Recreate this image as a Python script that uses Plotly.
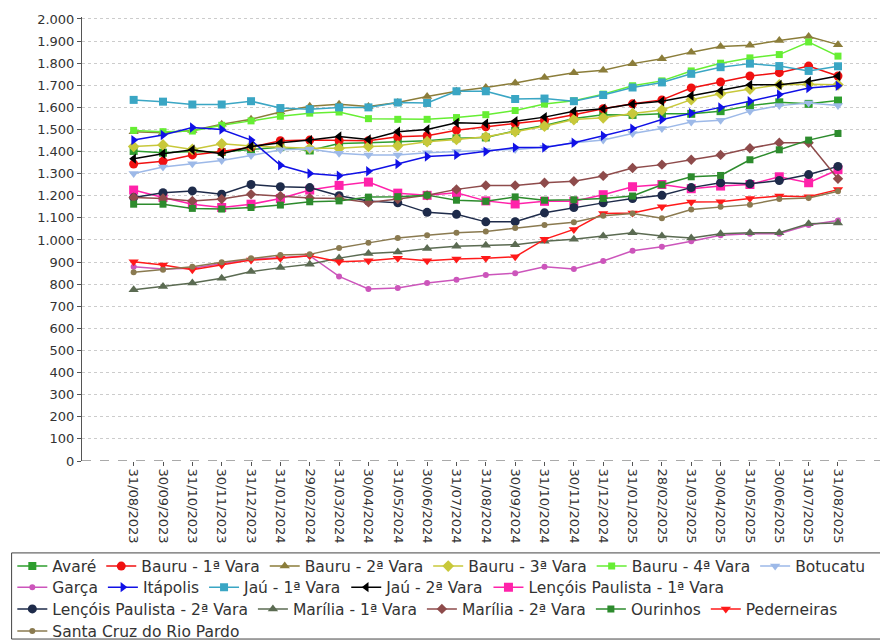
import plotly.graph_objects as go

# datas (fim de mês)
datas = ["31/08/2023", "30/09/2023", "31/10/2023", "30/11/2023", "31/12/2023",
         "31/01/2024", "29/02/2024", "31/03/2024", "30/04/2024", "31/05/2024",
         "30/06/2024", "31/07/2024", "31/08/2024", "30/09/2024", "31/10/2024",
         "30/11/2024", "31/12/2024", "31/01/2025", "28/02/2025", "31/03/2025",
         "30/04/2025", "31/05/2025", "30/06/2025", "31/07/2025", "31/08/2025"]

avare = [1403, 1395, 1400, 1398, 1410, 1420, 1405, 1437, 1440, 1445, 1449, 1460, 1464,
         1494, 1518, 1550, 1567, 1566, 1571, 1571, 1583, 1608, 1623, 1616, 1631]
bauru_1 = [1344, 1356, 1385, 1400, 1420, 1449, 1452, 1450, 1449, 1467, 1472, 1497, 1512,
           1527, 1542, 1567, 1594, 1616, 1634, 1688, 1715, 1742, 1757, 1787, 1742]
bauru_2 = [1490, 1485, 1495, 1524, 1546, 1579, 1605, 1614, 1604, 1622, 1649, 1673, 1690,
           1710, 1735, 1757, 1768, 1798, 1820, 1850, 1876, 1881, 1903, 1921, 1884]
bauru_3 = [1423, 1430, 1410, 1435, 1425, 1420, 1415, 1415, 1423, 1426, 1445, 1455, 1467,
           1490, 1515, 1545, 1553, 1572, 1588, 1635, 1662, 1683, 1702, 1705, 1702]
bauru_4 = [1496, 1490, 1493, 1519, 1539, 1560, 1574, 1579, 1549, 1546, 1546, 1554, 1567,
           1586, 1615, 1630, 1660, 1698, 1720, 1765, 1800, 1824, 1839, 1896, 1832]
botucatu = [1301, 1330, 1345, 1360, 1382, 1408, 1412, 1393, 1385, 1385, 1395, 1400, 1405,
            1410, 1420, 1440, 1452, 1482, 1504, 1534, 1542, 1583, 1608, 1620, 1608]
garca = [879, 869, 872, 894, 914, 920, 929, 835, 778, 783, 805, 820, 842,
         850, 879, 869, 905, 951, 969, 994, 1021, 1028, 1028, 1068, 1088]
itapolis = [1452, 1475, 1509, 1500, 1452, 1338, 1301, 1291, 1311, 1344, 1378, 1385, 1400,
            1418, 1418, 1440, 1472, 1504, 1545, 1574, 1600, 1628, 1658, 1688, 1698]
jau_1 = [1634, 1626, 1613, 1613, 1628, 1597, 1592, 1600, 1600, 1622, 1620, 1673, 1673,
         1638, 1640, 1628, 1656, 1690, 1713, 1752, 1782, 1798, 1787, 1765, 1786]
jau_2 = [1368, 1390, 1408, 1390, 1423, 1440, 1452, 1468, 1455, 1490, 1500, 1530, 1527,
         1537, 1556, 1583, 1594, 1615, 1628, 1653, 1675, 1702, 1702, 1717, 1742]
lencois_1 = [1226, 1192, 1162, 1147, 1162, 1188, 1226, 1247, 1262, 1212, 1202, 1214, 1177,
             1163, 1175, 1175, 1205, 1241, 1251, 1232, 1244, 1251, 1286, 1259, 1318]
lencois_2 = [1192, 1214, 1222, 1207, 1251, 1241, 1237, 1200, 1176, 1168, 1125, 1116, 1082,
             1083, 1123, 1147, 1168, 1188, 1202, 1237, 1259, 1254, 1269, 1296, 1333]
marilia_1 = [775, 790, 805, 827, 857, 875, 890, 918, 939, 946, 961, 972, 976,
             979, 994, 1003, 1018, 1033, 1018, 1009, 1028, 1033, 1033, 1073, 1077]
marilia_2 = [1192, 1188, 1177, 1185, 1207, 1199, 1190, 1188, 1170, 1185, 1202, 1229, 1247,
             1247, 1259, 1266, 1290, 1326, 1341, 1363, 1385, 1415, 1440, 1440, 1277]
ourinhos = [1162, 1162, 1143, 1140, 1147, 1158, 1173, 1177, 1194, 1196, 1203, 1180, 1175,
            1195, 1180, 1182, 1188, 1199, 1250, 1286, 1292, 1363, 1408, 1452, 1482]
pederneiras = [902, 887, 865, 887, 909, 917, 929, 902, 906, 917, 906, 914, 917,
               924, 1003, 1048, 1120, 1122, 1150, 1172, 1173, 1188, 1199, 1196, 1228]
santa_cruz = [854, 865, 879, 899, 917, 932, 935, 964, 987, 1009, 1021, 1033, 1039,
              1054, 1068, 1080, 1110, 1120, 1098, 1138, 1150, 1160, 1185, 1190, 1221]

# nome, valores, cor, simbolo, tamanho, linha da legenda
series = [
    ("Avaré", avare, "#2E9E2E", "square", 8, "legend"),
    ("Bauru - 1ª Vara", bauru_1, "#F01010", "circle", 9, "legend"),
    ("Bauru - 2ª Vara", bauru_2, "#8B7D3A", "triangle-up", 9, "legend"),
    ("Bauru - 3ª Vara", bauru_3, "#C8C83A", "diamond", 9, "legend"),
    ("Bauru - 4ª Vara", bauru_4, "#66EE33", "square", 7, "legend"),
    ("Botucatu", botucatu, "#9DB9E8", "triangle-down", 9, "legend"),
    ("Garça", garca, "#CC55BB", "circle", 6, "legend2"),
    ("Itápolis", itapolis, "#1010E6", "triangle-right", 9, "legend2"),
    ("Jaú - 1ª Vara", jau_1, "#3AA6C4", "square", 8, "legend2"),
    ("Jaú - 2ª Vara", jau_2, "#000000", "triangle-left", 9, "legend2"),
    ("Lençóis Paulista - 1ª Vara", lencois_1, "#FF22AA", "square", 9, "legend2"),
    ("Lençóis Paulista - 2ª Vara", lencois_2, "#1E2B4A", "circle", 9, "legend3"),
    ("Marília - 1ª Vara", marilia_1, "#5B6B52", "triangle-up", 9, "legend3"),
    ("Marília - 2ª Vara", marilia_2, "#8E4B4B", "diamond", 8, "legend3"),
    ("Ourinhos", ourinhos, "#2D8B2D", "square", 7, "legend3"),
    ("Pederneiras", pederneiras, "#FF1A1A", "triangle-down", 9, "legend3"),
    ("Santa Cruz do Rio Pardo", santa_cruz, "#8A7A50", "circle", 6, "legend4"),
]

fig = go.Figure()
for nome, valores, cor, simbolo, tam, leg in series:
    fig.add_trace(go.Scatter(
        x=datas, y=valores, name=nome, mode="lines+markers", legend=leg,
        line=dict(color=cor, width=1.5),
        marker=dict(color=cor, symbol=simbolo, size=tam),
    ))

# linha do zero tracejada e caixa da legenda
fig.add_shape(type="line", xref="paper", yref="y", x0=0, x1=1, y0=0, y1=0,
              line=dict(color="#555555", width=1, dash="dash"))
fig.add_shape(type="rect", xref="paper", yref="paper",
              x0=-0.088, x1=1.005, y0=-0.401, y1=-0.207,
              line=dict(color="#444444", width=1))

leg_base = dict(orientation="h", x=-0.0871, xanchor="left", yanchor="middle",
                font=dict(size=15.5, color="#333333"), bgcolor="rgba(0,0,0,0)",
                itemwidth=30)

# a pagina tem margem de 8px; a figura passa um pouco da janela embaixo
fig.update_layout(
    width=880, height=644,
    margin=dict(l=70, r=6, t=4, b=191),
    plot_bgcolor="white", paper_bgcolor="white",
    font=dict(family="DejaVu Sans", size=13, color="#333333"),
    separators=",.",
    showlegend=True,
    legend=dict(leg_base, y=-0.2377),
    legend2=dict(leg_base, y=-0.2851),
    legend3=dict(leg_base, y=-0.3341),
    legend4=dict(leg_base, y=-0.3838),
    xaxis=dict(range=[-1.76, 25.5], tickangle=90, showgrid=False, ticks="outside",
               ticklen=4, tickcolor="#555555", showline=False,
               tickfont=dict(size=13, color="#333333")),
    yaxis=dict(range=[0, 2009], dtick=100, tick0=0, separatethousands=True,
               showgrid=True, gridcolor="#cccccc", griddash="dot", zeroline=False,
               showline=True, linecolor="#555555", linewidth=1,
               ticks="outside", ticklen=4, tickcolor="#555555",
               ticklabeloverflow="allow",
               tickfont=dict(size=13, color="#333333")),
)

fig.write_html("out.html")
